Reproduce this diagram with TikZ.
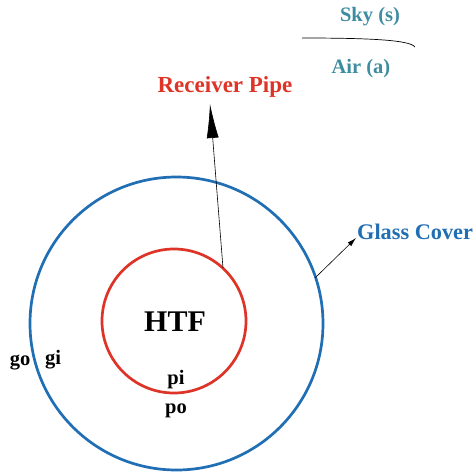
\documentclass[tikz,border=0pt]{standalone}
\usepackage{fontspec}
\setmainfont{Liberation Serif}
\usetikzlibrary{arrows.meta}
\definecolor{pipered}{RGB}{222,52,40}
\definecolor{glassblue}{RGB}{32,110,180}
\definecolor{skyteal}{RGB}{62,140,160}
\tikzset{
  lbl/.style={font=\bfseries\fontsize{20.5}{23}\selectfont, inner sep=0pt},
  big/.style={font=\bfseries\fontsize{23}{26}\selectfont},
  pointer/.style={draw=black, line width=0.6pt}
}
\begin{document}
\begin{tikzpicture}[x=1pt,y=-1pt]
\useasboundingbox (0,0) rectangle (475,472);
% tube cross-section
\draw[glassblue, line width=2.7pt] (176.5,323.5) circle (146.5);
\draw[pipered, line width=2.7pt] (174,321) circle (72);
% labels
\node[lbl, font=\bfseries\fontsize{30}{34}\selectfont] (htf) at (175,322) {HTF};
\node[lbl] (go) at (20,362) {go};
\node[lbl] (gi) at (53,360) {gi};
\node[lbl] (pi) at (176,380) {pi};
\node[lbl] (po) at (176,411) {po};
\node[lbl, big, text=pipered] (rp) at (225,87) {Receiver Pipe};
\node[lbl, text=glassblue, font=\bfseries\fontsize{22.3}{25}\selectfont, anchor=west] (gc) at (357,232) {Glass Cover};
\node[lbl, text=skyteal] (sky) at (370,17) {Sky (s)};
\node[lbl, text=skyteal] (air) at (361,69) {Air (a)};
% sky/air boundary
\coordinate (b1) at (302,38);
\coordinate (b2) at (415,47);
\draw[line width=0.7pt] (b1) .. controls (370,38) and (410,40) .. (b2);
% pointers
\coordinate (rpfoot) at (223,268);
\coordinate (rptip) at (210,104);
\draw[pointer, -{Latex[length=34pt,width=12pt]}] (rpfoot) -- (rptip);
\coordinate (gcfoot) at (315,278);
\coordinate (gctip) at (356,238);
\draw[pointer, -{Latex[length=9pt,width=5pt]}] (gcfoot) -- (gctip);
\end{tikzpicture}
\end{document}
